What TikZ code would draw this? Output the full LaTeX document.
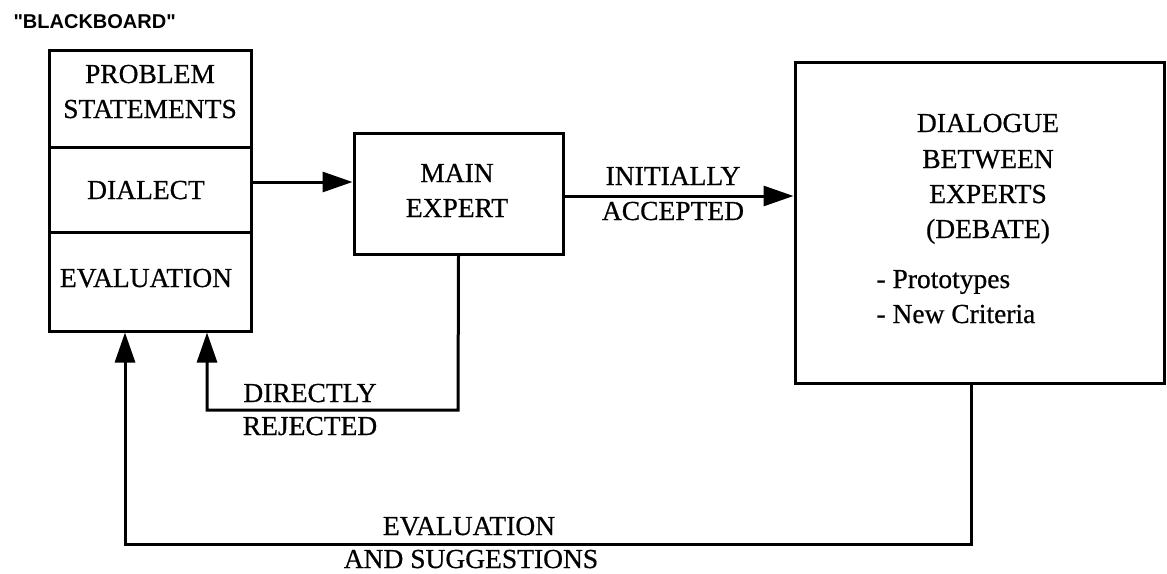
\documentclass[tikz,border=0pt]{standalone}
\usepackage{fontspec}
\setmainfont{Liberation Serif}[FakeBold=0.6]
\newfontfamily\helv{Liberation Sans}
\usetikzlibrary{arrows.meta}
\begin{document}
\begin{tikzpicture}[x=1pt,y=-1pt,line width=3pt,line join=miter,
  box/.style={draw,rectangle,inner sep=0pt,line width=3pt},
  lbl/.style={font=\fontsize{27.5}{30}\selectfont,inner sep=0pt,anchor=base},
  lbll/.style={font=\fontsize{27.5}{30}\selectfont,inner sep=0pt,anchor=base west},
  tip/.style={-{Triangle[length=30pt,width=20pt]}}]
\useasboundingbox (0,0) rectangle (1167,573);
% title
\node[font=\helv\bfseries\fontsize{20}{22}\selectfont,anchor=base west,inner sep=0pt] (title) at (12,28) {"BLACKBOARD"};
% blackboard cells
\node[box,minimum width=202pt,minimum height=97pt] (pb) at (150,98.5) {};
\node[box,minimum width=202pt,minimum height=85pt] (dl) at (150,189.5) {};
\node[box,minimum width=202pt,minimum height=99pt] (ev) at (150,281.5) {};
\node[lbl] (pbt1) at (150,83) {PROBLEM};
\node[lbl] (pbt2) at (150,118) {STATEMENTS};
\node[lbl] (dlt) at (146,199) {DIALECT};
\node[lbl] (evt) at (146,287) {EVALUATION};
% main expert
\node[box,minimum width=209pt,minimum height=121pt] (main) at (458.5,193.5) {};
\node[lbl] (mt1) at (457,182) {MAIN};
\node[lbl] (mt2) at (457,217) {EXPERT};
% dialogue
\node[box,minimum width=369pt,minimum height=321pt] (dg) at (979.5,222.5) {};
\node[lbl] (dg1) at (988,132) {DIALOGUE};
\node[lbl] (dg2) at (988,168) {BETWEEN};
\node[lbl] (dg3) at (988,203) {EXPERTS};
\node[lbl] (dg4) at (988,238) {(DEBATE)};
\node[lbll] (dg5) at (875,288) {- Prototypes};
\node[lbll] (dg6) at (875,323) {- New Criteria};
% connectors
\coordinate (ya) at (0,182);
\coordinate (yb) at (0,196);
\draw[tip] (dl.east |- ya) -- (main.west |- ya);
\draw[tip] (main.east |- yb) -- (dg.west |- yb);
\node[lbl] (ia1) at (673,185) {INITIALLY};
\node[lbl] (ia2) at (673,220) {ACCEPTED};
\coordinate (rj1) at (458,410);
\coordinate (rj2) at (207,410);
\draw[tip] (main.south) -- (rj1) -- (rj2) -- (ev.south -| rj2);
\node[lbl] (dr1) at (310,402) {DIRECTLY};
\node[lbl] (dr2) at (310,435) {REJECTED};
\coordinate (es1) at (971,544);
\coordinate (es2) at (125,544);
\draw[tip] (dg.south -| es1) -- (es1) -- (es2) -- (ev.south -| es2);
\node[lbl] (es1t) at (469,535) {EVALUATION};
\node[lbl] (es2t) at (471,568) {AND SUGGESTIONS};
\end{tikzpicture}
\end{document}
